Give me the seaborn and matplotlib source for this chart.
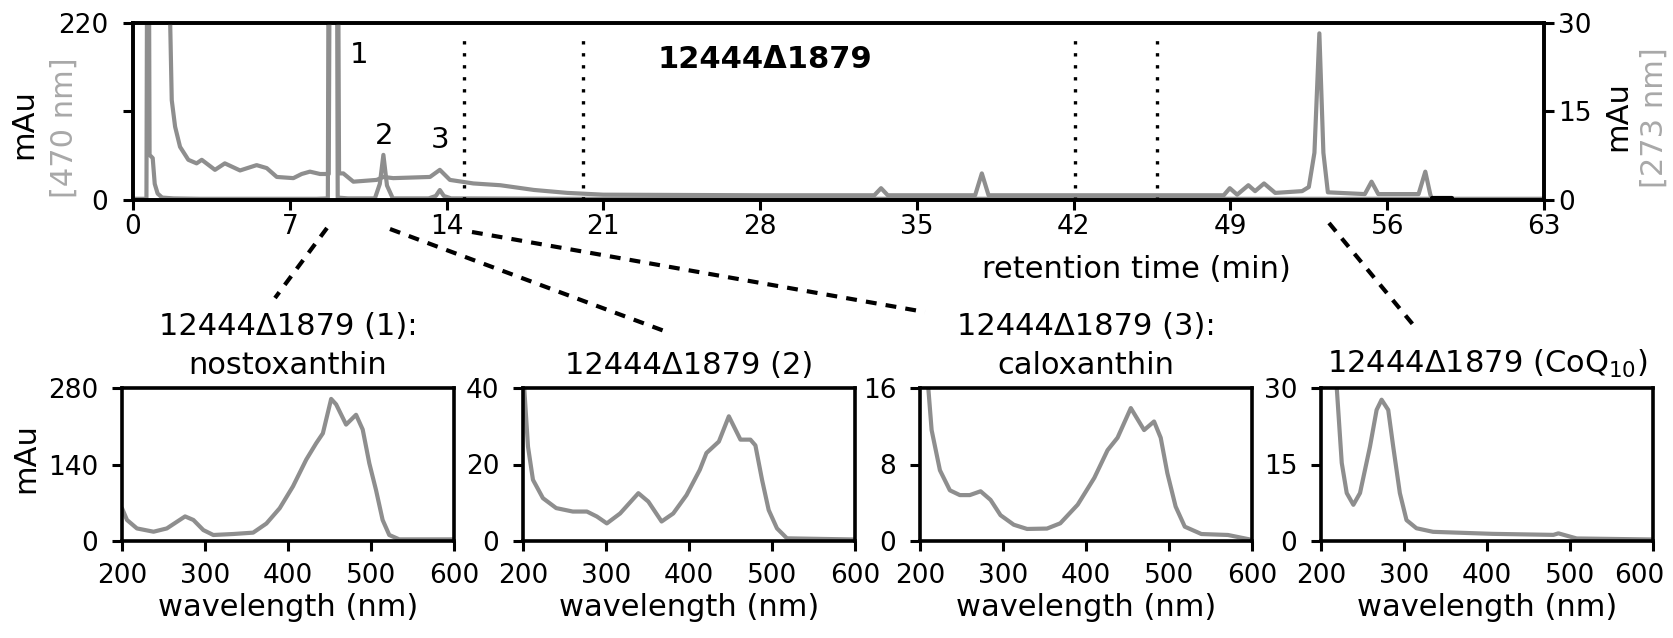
import numpy as np
import pandas as pd
import matplotlib
matplotlib.use("Agg")
import matplotlib.pyplot as plt
import seaborn as sns
from matplotlib.lines import Line2D
from matplotlib.transforms import ScaledTranslation

# ---------------- data ----------------
# chromatogram, 470 nm trace (left axis, mAu)
t470 = [0.0, 0.6, 0.64, 0.70, 0.74, 0.88, 0.97, 1.1, 1.3, 1.8, 3.0, 5.0, 7.0, 8.2, 8.70, 8.74, 9.10, 9.14,
        9.6, 10.8, 11.02, 11.18, 11.34, 11.6, 13.2, 13.52, 13.7, 13.88, 14.2, 20.0, 30.0, 40.0, 50.0, 58.0, 63.0]
v470 = [1.5, 1.5, 400, 400, 56, 52, 20, 8, 3, 2, 1.5, 1.5, 1.5, 1.5, 2, 400, 400, 3,
        2, 2, 20, 56, 18, 2, 2, 5, 12.4, 5, 2, 1.5, 1.5, 1.5, 1.5, 1.5, 1.5]

# chromatogram, 273 nm trace (right axis, mAu)
t273 = [1.58, 1.66, 1.73, 1.88, 2.1, 2.47, 2.84, 3.07, 3.66, 4.1, 4.78, 5.52, 5.97, 6.42, 7.16, 7.53, 7.9,
        8.35, 8.74, 8.80, 9.14, 9.2, 9.39, 9.84, 10.88, 11.18, 11.62, 13.26, 13.7, 14.15, 15.2, 16.4, 17.9,
        19.4, 21.0, 28.0, 33.1, 33.4, 33.7, 37.6, 37.9, 38.2, 42.0, 48.7, 48.97, 49.3, 49.8, 50.1, 50.5, 51.0,
        51.4, 52.2, 52.5, 52.75, 52.97, 53.15, 53.35, 55.0, 55.3, 55.6, 57.4, 57.7, 57.92, 58.0]
v273 = [60, 30, 16.9, 12.4, 9.0, 6.8, 6.2, 6.8, 5.1, 6.2, 5.0, 5.9, 5.4, 3.9, 3.7, 4.4, 4.8,
        4.4, 4.4, 60, 60, 4.5, 4.5, 3.1, 3.4, 3.9, 3.7, 3.9, 5.1, 3.4, 2.8, 2.5, 1.7,
        1.2, 0.9, 0.8, 0.8, 2.0, 0.8, 0.8, 4.5, 0.8, 0.8, 0.8, 2.0, 0.9, 2.5, 1.5, 2.8, 1.2,
        1.3, 1.5, 2.2, 8.0, 28.2, 8.0, 1.3, 1.0, 3.1, 1.0, 1.0, 4.8, 1.0, 0.0]

# short black baseline segment at the end of the run
end_t = [58.0, 58.9]
end_v = [0.3, 0.3]

# fraction boundaries (dotted lines), min
fraction_t = [14.8, 20.1, 42.05, 45.7]

# peak labels
peak_labels = ["1", "2", "3"]
peak_label_t = [10.1, 11.2, 13.7]
peak_label_v = [180, 80, 74]

time_ticks = [0, 7, 14, 21, 28, 35, 42, 49, 56, 63]

# UV/Vis spectra
wl1 = [200, 206, 218, 238, 254, 266, 276, 286, 298, 310, 334, 358, 374, 390, 406, 422, 434, 442, 452,
       458, 470, 482, 490, 498, 506, 514, 522, 534, 600]
ab1 = [60, 38.5, 23, 17, 23, 35, 45, 38.5, 20, 11, 12.8, 15.3, 32, 60, 100, 149, 179, 197, 260,
       250, 213, 231, 204, 142, 93.5, 38.5, 11, 3, 3]

wl2 = [200, 206, 212, 224, 240, 260, 277, 289, 301, 317, 339, 351, 367, 381, 397, 413, 421, 436, 448,
       462, 474, 480, 488, 496, 506, 518, 599]
ab2 = [45, 24.7, 16, 11.2, 8.6, 7.7, 7.7, 6.4, 4.6, 7.2, 12.5, 10.3, 5.1, 7.2, 12, 18.6, 23, 26, 32.6,
       26.5, 26.5, 25, 16, 8.1, 3.3, 0.7, 0.4]

wl3 = [205, 210, 214, 224, 236, 248, 260, 273, 285, 297, 313, 329, 353, 369, 390, 410, 426, 438, 454,
       470, 482, 490, 498, 508, 519, 539, 571, 597]
ab3 = [22, 16, 11.6, 7.4, 5.3, 4.8, 4.8, 5.2, 4.3, 2.7, 1.7, 1.26, 1.3, 1.85, 3.8, 6.6, 9.5, 10.8, 13.9,
       11.6, 12.5, 10.8, 7.1, 3.6, 1.5, 0.73, 0.63, 0.17]

wl4 = [214, 219, 225, 231, 239, 247, 259, 267, 273, 281, 287, 295, 303, 315, 335, 407, 480, 486, 508, 598]
ab4 = [40, 30, 15.3, 9.4, 7.1, 9.4, 18.5, 25.7, 27.7, 25.7, 18.5, 9.4, 4.1, 2.5, 1.8, 1.4, 1.2, 1.5, 0.5, 0.3]

spectra = [(wl1, ab1, 280, "12444\u03941879 (1):\nnostoxanthin"),
           (wl2, ab2, 40, "12444\u03941879 (2)"),
           (wl3, ab3, 16, "12444\u03941879 (3):\ncaloxanthin"),
           (wl4, ab4, 30, "12444\u03941879 (CoQ$_{10}$)")]
wl_ticks = [200, 300, 400, 500, 600]

# ---------------- style ----------------
sns.set_theme(style="ticks")
plt.rcParams["font.family"] = ["DejaVu Sans"]
plt.rcParams["mathtext.fontset"] = "dejavusans"
for k in ["text.color", "axes.labelcolor", "xtick.color", "ytick.color", "axes.edgecolor"]:
    plt.rcParams[k] = "black"

TRACE = "#8e8e8e"
LGRAY = "#a8a8a8"
LW = 3.0
SPW = 2.6
TICK = 19
LAB = 22

W, H = 1674, 638
fig = plt.figure(figsize=(W / 100, H / 100), dpi=100)

def fx(px):
    return px / W

def fy(py):
    return 1 - py / H

# ---------------- chromatogram ----------------
ax = fig.add_axes([fx(133), fy(200), (1544 - 133) / W, 177.3 / H])
ax2 = ax.twinx()

df470 = pd.DataFrame({"t": t470, "v": v470})
df273 = pd.DataFrame({"t": t273, "v": v273})
sns.lineplot(data=df470, x="t", y="v", ax=ax, color=TRACE, lw=LW, sort=False, estimator=None)
sns.lineplot(data=df273, x="t", y="v", ax=ax2, color=TRACE, lw=LW, sort=False, estimator=None)
sns.lineplot(x=end_t, y=end_v, ax=ax2, color="black", lw=3, sort=False, estimator=None)

for ft in fraction_t:
    ax.axvline(ft, ymin=0, ymax=0.94, color="black", lw=2.4, ls=(0, (1, 2.6)), zorder=5)

for lab, lt, lv in zip(peak_labels, peak_label_t, peak_label_v):
    ax.text(lt, lv, lab, ha="center", va="center", fontsize=21, color="black")

ax.text(0.448, 0.79, "12444\u03941879", transform=ax.transAxes, ha="center", va="center",
        fontsize=22, fontweight="bold")

ax.set_xlim(0, 63)
ax.set_ylim(0, 220)
ax2.set_ylim(0, 30)
ax.set_xticks(time_ticks)
ax.set_xticklabels([str(v) for v in time_ticks])
ax.set_yticks([0, 110, 220])
ax.set_yticklabels(["0", "", "220"])
ax2.set_yticks([0, 15, 30])
ax2.set_yticklabels(["0", "15", "30"])
ax.set_ylabel("")
ax2.set_ylabel("")
ax.set_xlabel("retention time (min)", fontsize=LAB)
ax.xaxis.set_label_coords(0.711, -0.31)
ax.tick_params(axis="x", direction="out", length=7, width=2.2, labelsize=TICK, pad=3)
ax.tick_params(axis="y", direction="out", length=7, width=2.2, labelsize=TICK, pad=11)
ax2.tick_params(axis="y", direction="out", length=7, width=2.2, labelsize=TICK, pad=3)
for a in (ax, ax2):
    for s in a.spines.values():
        s.set_visible(True)
        s.set_linewidth(SPW)
        s.set_color("black")

ax.text(-0.0776, 0.43, "mAu", transform=ax.transAxes, rotation=90, ha="center", va="center",
        fontsize=LAB)
ax.text(-0.049, 0.41, "[470 nm]", transform=ax.transAxes, rotation=90, ha="center", va="center",
        fontsize=LAB, color=LGRAY)
ax.text(1.0525, 0.474, "mAu", transform=ax.transAxes, rotation=90, ha="center", va="center",
        fontsize=LAB)
ax.text(1.078, 0.463, "[273 nm]", transform=ax.transAxes, rotation=90, ha="center", va="center",
        fontsize=LAB, color=LGRAY)

# ---------------- spectra panels ----------------
lefts = [122, 523, 920, 1321]
for i, ((wl, ab, ymax, title), lp) in enumerate(zip(spectra, lefts)):
    a = fig.add_axes([fx(lp), fy(541), 332 / W, 153 / H])
    dfs = pd.DataFrame({"wl": wl, "ab": ab})
    sns.lineplot(data=dfs, x="wl", y="ab", ax=a, color=TRACE, lw=LW, sort=False, estimator=None)
    a.set_xlim(200, 600)
    a.set_ylim(0, ymax)
    a.set_xticks(wl_ticks)
    a.set_xticklabels([str(v) for v in wl_ticks])
    a.set_yticks([0, ymax / 2, ymax])
    a.set_yticklabels([str(int(v)) for v in [0, ymax / 2, ymax]])
    a.set_xlabel("wavelength (nm)", fontsize=LAB, labelpad=3)
    a.set_ylabel("")
    a.tick_params(axis="x", direction="out", length=7, width=2.2, labelsize=TICK, pad=9)
    a.tick_params(axis="y", direction="out", length=7, width=2.2, labelsize=TICK, pad=10)
    for s in a.spines.values():
        s.set_visible(True)
        s.set_linewidth(SPW)
        s.set_color("black")
    a.text(0.5, 1.05, title, transform=a.transAxes, ha="center", va="bottom", fontsize=LAB,
           linespacing=1.45)
    if i == 0:
        a.text(-0.29, 0.54, "mAu", transform=a.transAxes, rotation=90, ha="center", va="center",
               fontsize=LAB)
    if i == len(spectra) - 1:
        last = a.get_xticklabels()[-1]
        last.set_transform(last.get_transform() + ScaledTranslation(-0.14, 0, fig.dpi_scale_trans))

# ---------------- connector lines ----------------
connectors = [((327, 228), (275, 298)),
              ((390, 229), (667, 332)),
              ((472, 232), (925, 312)),
              ((1329, 223), (1415, 327))]
for (x0, y0), (x1, y1) in connectors:
    fig.add_artist(Line2D([fx(x0), fx(x1)], [fy(y0), fy(y1)], transform=fig.transFigure,
                          color="black", lw=3.0, ls=(0, (2.6, 2.2))))

fig.savefig("out.png", dpi=100)
